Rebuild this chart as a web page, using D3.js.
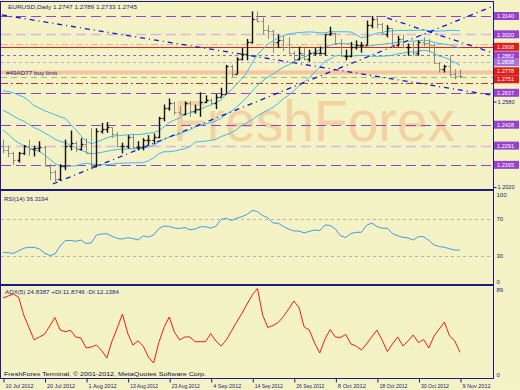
<!DOCTYPE html>
<html><head><meta charset="utf-8">
<script src="https://cdn.jsdelivr.net/npm/d3@7"></script>
<style>body{margin:0;background:#fff}svg{display:block}</style>
</head><body><svg id="c" width="520" height="390"></svg>
<script>
// ---------------- DATA ----------------
const dates = ["10 Jul 2012","11 Jul 2012","12 Jul 2012","13 Jul 2012","16 Jul 2012","17 Jul 2012","18 Jul 2012","19 Jul 2012","20 Jul 2012","23 Jul 2012","24 Jul 2012","25 Jul 2012","26 Jul 2012","27 Jul 2012","30 Jul 2012","31 Jul 2012",
"1 Aug 2012","2 Aug 2012","3 Aug 2012","6 Aug 2012","7 Aug 2012","8 Aug 2012","9 Aug 2012","10 Aug 2012","13 Aug 2012","14 Aug 2012","15 Aug 2012","16 Aug 2012","17 Aug 2012","20 Aug 2012","21 Aug 2012","22 Aug 2012","23 Aug 2012","24 Aug 2012","27 Aug 2012","28 Aug 2012","29 Aug 2012","30 Aug 2012","31 Aug 2012",
"3 Sep 2012","4 Sep 2012","5 Sep 2012","6 Sep 2012","7 Sep 2012","10 Sep 2012","11 Sep 2012","12 Sep 2012","13 Sep 2012","14 Sep 2012","17 Sep 2012","18 Sep 2012","19 Sep 2012","20 Sep 2012","21 Sep 2012","24 Sep 2012","25 Sep 2012","26 Sep 2012","27 Sep 2012","28 Sep 2012",
"1 Oct 2012","2 Oct 2012","3 Oct 2012","4 Oct 2012","5 Oct 2012","8 Oct 2012","9 Oct 2012","10 Oct 2012","11 Oct 2012","12 Oct 2012","15 Oct 2012","16 Oct 2012","17 Oct 2012","18 Oct 2012","19 Oct 2012","22 Oct 2012","23 Oct 2012","24 Oct 2012","25 Oct 2012","26 Oct 2012","29 Oct 2012","30 Oct 2012","31 Oct 2012",
"1 Nov 2012","2 Nov 2012","5 Nov 2012","6 Nov 2012","7 Nov 2012","8 Nov 2012","9 Nov 2012"];

const opens  = [1.2290,1.2265,1.2245,1.2200,1.2245,1.2290,1.2270,1.2275,1.2280,1.2160,1.2120,1.2070,1.2160,1.2290,1.2310,1.2270,
1.2300,1.2240,1.2160,1.2390,1.2400,1.2410,1.2370,1.2290,1.2290,1.2350,1.2280,1.2280,1.2330,1.2330,1.2350,1.2470,1.2540,1.2570,1.2510,1.2500,1.2570,1.2520,1.2530,
1.2580,1.2590,1.2570,1.2610,1.2630,1.2810,1.2760,1.2860,1.2890,1.2970,1.3120,1.3110,1.3050,1.3040,1.2970,1.2980,1.2940,1.2900,1.2860,1.2900,
1.2860,1.2900,1.2900,1.2900,1.3020,1.3030,1.2960,1.2880,1.2880,1.2940,1.2950,1.2950,1.3080,1.3120,1.3090,1.3020,1.3060,1.2950,1.2990,1.2940,1.2940,1.2900,1.2970,
1.2960,1.2950,1.2830,1.2790,1.2810,1.2760,1.2747];
const highs  = [1.2330,1.2290,1.2250,1.2250,1.2295,1.2330,1.2290,1.2320,1.2290,1.2170,1.2130,1.2170,1.2330,1.2390,1.2320,1.2340,
1.2340,1.2405,1.2405,1.2440,1.2445,1.2410,1.2380,1.2310,1.2360,1.2370,1.2320,1.2340,1.2360,1.2370,1.2480,1.2560,1.2600,1.2580,1.2550,1.2580,1.2580,1.2560,1.2640,
1.2620,1.2600,1.2630,1.2670,1.2820,1.2820,1.2870,1.2930,1.2990,1.3170,1.3170,1.3130,1.3080,1.3050,1.3020,1.3010,1.3000,1.2910,1.2940,1.2930,
1.2920,1.2930,1.2940,1.3020,1.3070,1.3030,1.2990,1.2920,1.2970,1.2980,1.2970,1.3110,1.3140,1.3140,1.3095,1.3080,1.3060,1.3010,1.3020,1.2960,1.2970,1.2980,1.3000,
1.2990,1.2960,1.2840,1.2820,1.2880,1.2790,1.2789];
const lows   = [1.2240,1.2215,1.2165,1.2180,1.2230,1.2225,1.2220,1.2250,1.2160,1.2065,1.2040,1.2060,1.2130,1.2260,1.2250,1.2260,
1.2240,1.2135,1.2150,1.2370,1.2375,1.2340,1.2280,1.2240,1.2270,1.2270,1.2260,1.2260,1.2290,1.2300,1.2340,1.2450,1.2520,1.2490,1.2490,1.2490,1.2480,1.2500,1.2480,
1.2570,1.2560,1.2530,1.2610,1.2630,1.2740,1.2760,1.2850,1.2850,1.2960,1.3100,1.3020,1.2990,1.2900,1.2930,1.2910,1.2890,1.2830,1.2850,1.2850,
1.2840,1.2880,1.2890,1.2880,1.3010,1.2950,1.2880,1.2850,1.2870,1.2920,1.2900,1.2950,1.3060,1.3060,1.3020,1.3000,1.2930,1.2940,1.2930,1.2880,1.2880,1.2880,1.2940,
1.2900,1.2830,1.2770,1.2770,1.2740,1.2725,1.2733];
const closes = [1.2265,1.2245,1.2200,1.2245,1.2290,1.2270,1.2275,1.2280,1.2160,1.2120,1.2070,1.2160,1.2290,1.2310,1.2270,1.2300,
1.2240,1.2160,1.2390,1.2400,1.2410,1.2370,1.2290,1.2290,1.2350,1.2280,1.2280,1.2330,1.2330,1.2350,1.2470,1.2540,1.2570,1.2510,1.2500,1.2570,1.2520,1.2530,1.2580,
1.2590,1.2570,1.2610,1.2630,1.2810,1.2760,1.2860,1.2890,1.2970,1.3120,1.3110,1.3050,1.3040,1.2970,1.2980,1.2940,1.2900,1.2860,1.2900,1.2860,
1.2900,1.2900,1.2900,1.3020,1.3030,1.2960,1.2880,1.2880,1.2940,1.2950,1.2950,1.3080,1.3120,1.3090,1.3020,1.3060,1.2950,1.2990,1.2940,1.2940,1.2900,1.2970,1.2960,
1.2950,1.2830,1.2790,1.2810,1.2760,1.2750,1.2745];
// closes before the first visible bar (needed by the 20-bar bands)
const priorCloses = [1.2565,1.2620,1.2640,1.2580,1.2685,1.2700,1.2560,1.2570,1.2505,1.2495,1.2470,1.2440,1.2665,1.2585,1.2605,1.2520,1.2390,1.2290,1.2290];

const rsiValues = [34.0,33.5,32.9,35.6,38.4,39.4,39.4,37.6,33.2,30.5,
32.2,40.8,46.8,46.8,45.9,47.3,43.5,44.1,52.7,53.8,
54.1,51.4,48.9,48.4,49.8,48.9,47.3,51.8,50.5,52.7,
59.7,62.4,61.9,60.3,59.7,60.8,58.4,59.2,61.6,61.7,
60.1,62.1,69.5,70.8,68.4,70.9,72.4,75.1,79.2,78.1,
73.8,71.3,65.7,65.4,61.9,59.2,57.0,57.0,54.9,56.7,
58.1,57.4,63.5,63.1,59.2,51.9,50.0,54.3,55.6,55.6,
63.0,65.7,61.9,60.0,60.0,54.3,51.9,50.2,49.5,47.3,
50.9,50.9,46.8,41.9,40.3,39.4,37.8,36.5,36.3194];

const adxValues = [77.4,79.3,81.2,78.3,60.9,48.8,36.8,39.7,42.3,50.3,
58.5,46.4,44.8,46.2,39.7,38.7,29.0,30.0,31.9,26.6,
19.3,35.8,48.4,61.9,43.5,31.9,35.8,30.9,20.3,14.5,
34.3,48.8,59.0,44.5,36.8,39.7,39.7,35.1,35.1,35.1,
43.0,35.8,30.9,36.8,45.5,54.2,62.4,71.6,80.3,86.6,
60.9,48.8,50.8,53.7,59.5,66.7,74.5,68.2,49.3,46.4,
33.8,24.2,37.7,46.9,39.7,39.2,42.1,32.9,30.9,27.1,
32.9,39.7,46.4,36.8,25.6,32.9,39.7,30.9,35.8,41.6,
34.3,37.2,29.0,40.6,47.4,54.2,40.6,35.8,24.8387];

// horizontal levels drawn across the price pane
const levelPrices = [1.3140,1.3020,1.2957,1.2938,1.2882,1.2838,1.2774,1.2742,1.2701,1.2637,1.2428,1.2291,1.2165];
// labelled prices on the right scale
const boxLabels = ["1.3140","1.3020","1.2938","1.2882","1.2838","1.2751","1.2778","1.2637","1.2428","1.2291","1.2165"];
const plainLabels = ["1.2580","1.2020"];
// trend lines: [startBar, startPrice, endBar, endPrice]
const trendLines = [
  [-0.2, 1.3147, 93.8, 1.2623],
  [9.6, 1.2040, 94.4, 1.3205],
  [74.0, 1.3127, 94.4, 1.2898]
];
const dateTickIdx = [0,8,16,24,32,40,48,56,64,72,80,88];
const rsiLevels = [70,30];
const rsiTickLabels = [100,70,30,0];
const adxTickLabels = [89,0];

// ---------------- DRAW ----------------
const svg = d3.select('#c');
const navy = '#1b1b86';
const FONT = '"Liberation Sans", Arial, sans-serif';
const defs = svg.append('defs');
const pat = defs.append('pattern').attr('id','bgp').attr('width',2).attr('height',2).attr('patternUnits','userSpaceOnUse');
pat.append('rect').attr('width',2).attr('height',2).attr('fill','#f8f6cb');
pat.append('rect').attr('width',1).attr('height',1).attr('fill','#efecbb');
pat.append('rect').attr('x',1).attr('y',1).attr('width',1).attr('height',1).attr('fill','#f3f0c2');
svg.append('rect').attr('width',520).attr('height',390).attr('fill','url(#bgp)');

const x = d3.scaleLinear().domain([0,88]).range([3,460]);
const y = d3.scaleLinear().domain([1.2020,1.3140]).range([187,16]);
const yR = d3.scaleLinear().domain([0,100]).range([283.75,191.25]);
const yA = d3.scaleLinear().domain([0,89]).range([378,286]);

defs.append('clipPath').attr('id','cp').append('rect').attr('x',1).attr('y',2).attr('width',492).attr('height',187);
defs.append('clipPath').attr('id','cr').append('rect').attr('x',1).attr('y',191).attr('width',492).attr('height',93);
defs.append('clipPath').attr('id','ca').append('rect').attr('x',1).attr('y',286).attr('width',492).attr('height',92);

const gP = svg.append('g').attr('clip-path','url(#cp)');

// watermark
gP.append('text').attr('x',173).attr('y',141).attr('font-family',FONT).attr('font-size',58)
  .attr('textLength',282).attr('lengthAdjust','spacingAndGlyphs')
  .attr('fill','#f2d2a2').text('FreshForex');

// levels
const lvlStyle = [
  {c:'#9a40d0',w:1,d:'10,5'},
  {c:'#d8b6df',w:1.6,d:'10,5'},
  {c:'#f3a89c',w:1,d:'7,3,2,3'},
  {c:'#de2323',w:1,d:null},
  {c:'#9062d0',w:1,d:'3,3'},
  {c:'#c6a2e6',w:1,d:'3,3'},
  {c:'#f7c3a3',w:4,d:null},
  {c:'#8fc870',w:1,d:'6,4'},
  {c:'#c83232',w:1,d:'7,3,2,3'},
  {c:'#9a40d0',w:1,d:'10,5'},
  {c:'#9a40d0',w:1,d:'10,5'},
  {c:'#d8b6df',w:1.6,d:'10,5'},
  {c:'#9a40d0',w:1,d:'10,5'}
];
levelPrices.forEach((p,i)=>{
  const s = lvlStyle[i];
  const yy = Math.round(y(p))+0.5;
  gP.append('line').attr('x1',1).attr('x2',493).attr('y1',yy).attr('y2',yy)
    .attr('stroke',s.c).attr('stroke-width',s.w).attr('stroke-dasharray',s.d);
});

gP.append('text').attr('x',6).attr('y',75).attr('font-family',FONT).attr('font-size',6)
  .attr('textLength',51).attr('lengthAdjust','spacingAndGlyphs').attr('fill',navy).text('#49AD77 buy limit');

// Bollinger bands (20, 1)
const allC = priorCloses.concat(closes);
const bb = closes.map((c,i)=>{
  const w = allC.slice(i, i+20);
  const m = d3.mean(w);
  const sd = Math.sqrt(d3.mean(w.map(v=>(v-m)*(v-m))));
  return {m, u:m+sd, l:m-sd};
});
['u','m','l'].forEach(k=>{
  gP.append('path').datum(bb)
    .attr('d', d3.line().x((d,i)=>x(i)).y(d=>y(d[k])))
    .attr('fill','none').attr('stroke','#3bbcee').attr('stroke-width',1);
});

// trend lines
trendLines.forEach(t=>{
  gP.append('line').attr('x1',x(t[0])).attr('y1',y(t[1])).attr('x2',x(t[2])).attr('y2',y(t[3]))
    .attr('stroke','#1414d8').attr('stroke-width',1.3).attr('stroke-dasharray','5,4,1,4');
});

// OHLC bars
closes.forEach((c,i)=>{
  const xi = Math.round(x(i))+0.5;
  const down = c < opens[i];
  const col = down ? '#8a8a80' : '#111111';
  const g = gP.append('g').attr('stroke',col).attr('stroke-width', down?1:1.4);
  g.append('line').attr('x1',xi).attr('x2',xi).attr('y1',y(highs[i])).attr('y2',y(lows[i]));
  g.append('line').attr('x1',xi-2).attr('x2',xi).attr('y1',Math.round(y(opens[i]))+0.5).attr('y2',Math.round(y(opens[i]))+0.5);
  g.append('line').attr('x1',xi).attr('x2',xi+2).attr('y1',Math.round(y(c))+0.5).attr('y2',Math.round(y(c))+0.5);
});

// RSI pane
const gR = svg.append('g').attr('clip-path','url(#cr)');
rsiLevels.forEach(v=>{
  gR.append('line').attr('x1',1).attr('x2',493).attr('y1',Math.round(yR(v))+0.5).attr('y2',Math.round(yR(v))+0.5)
    .attr('stroke','#b9b6a4').attr('stroke-dasharray','3,3');
});
gR.append('path').datum(rsiValues).attr('d', d3.line().x((d,i)=>x(i)).y(d=>yR(d)))
  .attr('fill','none').attr('stroke','#3a9de8').attr('stroke-width',1);

// ADX pane
const gA = svg.append('g').attr('clip-path','url(#ca)');
gA.append('path').datum(adxValues).attr('d', d3.line().x((d,i)=>x(i)).y(d=>yA(d)))
  .attr('fill','none').attr('stroke','#ee1c1c').attr('stroke-width',1);

// pane borders
[[1.5,188],[190.5,94],[285.5,93]].forEach(r=>{
  svg.append('rect').attr('x',0.5).attr('y',r[0]).attr('width',493).attr('height',r[1])
    .attr('fill','none').attr('stroke',navy).attr('stroke-width',1);
});

// texts
function txt(xx,yy,s,len,size,fill){
  const t = svg.append('text').attr('x',xx).attr('y',yy).attr('font-family',FONT).attr('font-size',size||6)
    .attr('fill',fill||navy).text(s);
  if(len) t.attr('textLength',len).attr('lengthAdjust','spacingAndGlyphs');
  return t;
}
txt(8,8.5,'EURUSD,Daily  1.2747 1.2789 1.2733 1.2745',129);
txt(4,200.5,'RSI(14) 36.3194',44);
txt(5,294,'ADX(5) 24.8387 +DI:11.8746 -DI:12.1384',114);
txt(4,376,'FreshForex Terminal, \u00A9 2001-2012, MetaQuotes Software Corp.',202,6,'#101040');

// price axis
const boxColor = {"1.2938":'#e31b1b',"1.2778":'#e31b1b',"1.2751":'#e31b1b',"1.2838":'#ab72e0'};
boxLabels.forEach(s=>{
  let yy = y(+s);
  if (s === "1.2751") yy = y(1.2778) + 8;   // stacked under the 1.2778 box
  svg.append('rect').attr('x',494).attr('y',yy-4).attr('width',25).attr('height',8)
    .attr('fill',boxColor[s]||'#9a40d0');
  txt(497,yy+2.2,s,17,6,'#ffffff');
});
const axR = d3.axisRight(y).tickValues(plainLabels.map(Number)).tickFormat(d3.format('.4f')).tickSize(3).tickPadding(1);
const gAx = svg.append('g').attr('transform','translate(493.5,0)').call(axR);
gAx.select('.domain').remove();
gAx.selectAll('line').attr('stroke',navy);
gAx.selectAll('text').attr('font-family',FONT).attr('font-size',6).attr('fill',navy)
  .attr('textLength',17).attr('lengthAdjust','spacingAndGlyphs');

const axRs = d3.axisRight(yR).tickValues(rsiTickLabels).tickSize(0).tickPadding(3);
const gRs = svg.append('g').attr('transform','translate(493.5,0)').call(axRs);
gRs.select('.domain').remove();
gRs.selectAll('text').attr('font-family',FONT).attr('font-size',6).attr('fill',navy)
  .attr('dy',(d)=> d===100? '0.85em' : (d===0 ? '-0.1em':'0.32em'));

const axAd = d3.axisRight(yA).tickValues(adxTickLabels).tickSize(0).tickPadding(3);
const gAd = svg.append('g').attr('transform','translate(493.5,0)').call(axAd);
gAd.select('.domain').remove();
gAd.selectAll('text').attr('font-family',FONT).attr('font-size',6).attr('fill',navy)
  .attr('dy',(d)=> d===89? '0.9em' : '-0.2em');

// date axis
const axB = d3.axisBottom(x).tickValues(dateTickIdx).tickFormat(i=>dates[i]).tickSize(4).tickPadding(2);
const gB = svg.append('g').attr('transform','translate(0,378.5)').call(axB);
gB.select('.domain').remove();
gB.selectAll('line').attr('stroke',navy);
gB.selectAll('.tick line').attr('transform','translate(0.5,0)');
gB.selectAll('text').attr('font-family',FONT).attr('font-size',6).attr('fill',navy)
  .attr('text-anchor','start').attr('x',2).attr('dy','0.5em')
  .attr('textLength',28).attr('lengthAdjust','spacingAndGlyphs');
</script></body></html>
